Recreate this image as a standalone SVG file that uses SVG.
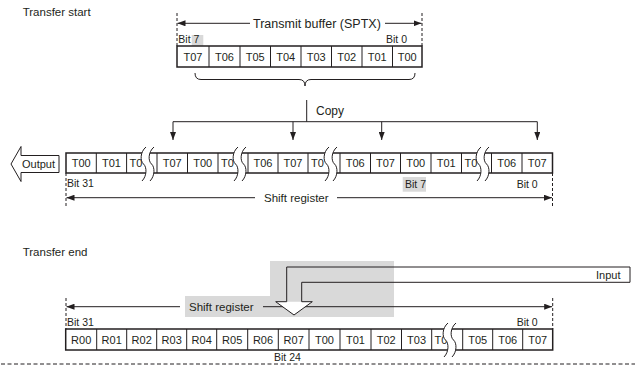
<svg xmlns="http://www.w3.org/2000/svg" width="635" height="366" viewBox="0 0 635 366">
<style>
  text { font-family: "Liberation Sans", Arial, sans-serif; fill: #231f20; }
  .t { font-size: 11px; }
  .c { font-size: 11px; text-anchor: middle; }
  .b { font-size: 10.5px; }
  .h { font-size: 11.5px; }
  .ln { stroke: #231f20; stroke-width: 1; fill: none; }
  .out { stroke: #231f20; stroke-width: 1.5; fill: none; }
  .div { stroke: #231f20; stroke-width: 1; }
  .dash { stroke: #231f20; stroke-width: 1; stroke-dasharray: 3 2; fill: none; }
  .sq { fill: #ffffff; stroke: none; }
  .gray { fill: #d9d9d9; }
</style>
<defs>
  <marker id="ah" markerUnits="userSpaceOnUse" markerWidth="8" markerHeight="6" refX="8" refY="3" orient="auto">
    <path d="M0,0 L8,3 L0,6 Z" fill="#231f20"/>
  </marker>
</defs>

<text class="h" x="22.7" y="16">Transfer start</text>
<text class="h" x="22.7" y="256">Transfer end</text>

<!-- Transmit buffer -->
<g id="transmit-buffer">
  <line class="dash" x1="177" y1="13" x2="177" y2="46"/>
  <line class="dash" x1="422" y1="13" x2="422" y2="46"/>
  <rect class="gray" x="191.7" y="35" width="11.6" height="11"/>
  <text class="b" x="178.3" y="43.3">Bit 7</text>
  <text class="b" x="386" y="43.3">Bit 0</text>
  <rect class="out" x="177" y="46" width="245" height="21"/>
  <g class="div">
    <line x1="209" y1="46" x2="209" y2="67"/>
    <line x1="240" y1="46" x2="240" y2="67"/>
    <line x1="270.5" y1="46" x2="270.5" y2="67"/>
    <line x1="301" y1="46" x2="301" y2="67"/>
    <line x1="331.5" y1="46" x2="331.5" y2="67"/>
    <line x1="362" y1="46" x2="362" y2="67"/>
    <line x1="392.5" y1="46" x2="392.5" y2="67"/>
  </g>
  <text class="c" x="193" y="60.5">T07</text>
  <text class="c" x="224.5" y="60.5">T06</text>
  <text class="c" x="255.2" y="60.5">T05</text>
  <text class="c" x="285.7" y="60.5">T04</text>
  <text class="c" x="316.2" y="60.5">T03</text>
  <text class="c" x="346.7" y="60.5">T02</text>
  <text class="c" x="377.2" y="60.5">T01</text>
  <text class="c" x="407.2" y="60.5">T00</text>
  <text style="font-size:12.5px" x="253" y="27.5">Transmit buffer (SPTX)</text>
</g>

<!-- Output arrow -->
<g id="output">
  <polygon class="ln" points="11,164 21,146.5 21,155.5 59,155.5 59,172.5 21,172.5 21,181.5"/>
  <text class="t" x="22" y="167.5">Output</text>
</g>

<!-- Top shift register -->
<g id="shift-register-start">
  <line class="dash" x1="66" y1="173" x2="66" y2="206"/>
  <line class="dash" x1="552.5" y1="173" x2="552.5" y2="206"/>
  <text class="b" x="67" y="186.5">Bit 31</text>
  <rect class="gray" x="402.7" y="177" width="23.3" height="14.7"/>
  <text class="b" x="405" y="187.5">Bit 7</text>
  <text class="b" x="516.7" y="187.5">Bit 0</text>
  <rect class="out" x="66" y="153" width="486.5" height="20"/>
  <g class="div">
    <line x1="96.3" y1="153" x2="96.3" y2="173"/>
    <line x1="126.6" y1="153" x2="126.6" y2="173"/>
    <line x1="157" y1="153" x2="157" y2="173"/>
    <line x1="187.5" y1="153" x2="187.5" y2="173"/>
    <line x1="218" y1="153" x2="218" y2="173"/>
    <line x1="248" y1="153" x2="248" y2="173"/>
    <line x1="278" y1="153" x2="278" y2="173"/>
    <line x1="308" y1="153" x2="308" y2="173"/>
    <line x1="340" y1="153" x2="340" y2="173"/>
    <line x1="370.5" y1="153" x2="370.5" y2="173"/>
    <line x1="400.5" y1="153" x2="400.5" y2="173"/>
    <line x1="431" y1="153" x2="431" y2="173"/>
    <line x1="461.5" y1="153" x2="461.5" y2="173"/>
    <line x1="491.5" y1="153" x2="491.5" y2="173"/>
    <line x1="522" y1="153" x2="522" y2="173"/>
  </g>
  <text class="c" x="81.2" y="167">T00</text>
  <text class="c" x="111.5" y="167">T01</text>
  <text class="t" x="129.5" y="167">T0</text>
  <text class="c" x="172.2" y="167">T07</text>
  <text class="c" x="202.7" y="167">T00</text>
  <text class="t" x="221" y="167">T0</text>
  <text class="c" x="263" y="167">T06</text>
  <text class="c" x="293" y="167">T07</text>
  <text class="t" x="311" y="167">T0</text>
  <text class="c" x="355.2" y="167">T06</text>
  <text class="c" x="385.5" y="167">T07</text>
  <text class="c" x="415.7" y="167">T00</text>
  <text class="c" x="446.2" y="167">T01</text>
  <text class="t" x="464.5" y="167">T0</text>
  <text class="c" x="506.7" y="167">T06</text>
  <text class="c" x="537.2" y="167">T07</text>
  <!-- breaks -->
  <path class="sq" d="M146,147 C140,152 140,161 143.5,164 C147,167 147,176 142,181 L150,181 C155,176 155,167 151.5,164 C148,161 148,152 154,147 Z"/>
  <path class="ln" d="M146,147 C140,152 140,161 143.5,164 C147,167 147,176 142,181 M154,147 C148,152 148,161 151.5,164 C155,167 155,176 150,181"/>
  <path class="sq" d="M238,147 C232,152 232,161 235.5,164 C239,167 239,176 234,181 L242,181 C247,176 247,167 243.5,164 C240,161 240,152 246,147 Z"/>
  <path class="ln" d="M238,147 C232,152 232,161 235.5,164 C239,167 239,176 234,181 M246,147 C240,152 240,161 243.5,164 C247,167 247,176 242,181"/>
  <path class="sq" d="M329,147 C323,152 323,161 326.5,164 C330,167 330,176 325,181 L333,181 C338,176 338,167 334.5,164 C331,161 331,152 337,147 Z"/>
  <path class="ln" d="M329,147 C323,152 323,161 326.5,164 C330,167 330,176 325,181 M337,147 C331,152 331,161 334.5,164 C338,167 338,176 333,181"/>
  <path class="sq" d="M481,147 C475,152 475,161 478.5,164 C482,167 482,176 477,181 L485,181 C490,176 490,167 486.5,164 C483,161 483,152 489,147 Z"/>
  <path class="ln" d="M481,147 C475,152 475,161 478.5,164 C482,167 482,176 477,181 M489,147 C483,152 483,161 486.5,164 C490,167 490,176 485,181"/>
  <text class="h" x="264" y="201.5">Shift register</text>
</g>

<!-- Bottom: gray area -->
<path class="gray" d="M185,296 H270 V261 H394 V317 H185 Z"/>

<!-- Bottom shift register -->
<g id="shift-register-end">
  <line class="dash" x1="66" y1="298" x2="66" y2="329"/>
  <line class="dash" x1="552.7" y1="298" x2="552.7" y2="329"/>
  <text class="b" x="67" y="325.5">Bit 31</text>
  <text class="b" x="516.7" y="325.5">Bit 0</text>
  <text class="b" x="274" y="360.5">Bit 24</text>
  <rect class="out" x="65.7" y="329" width="487" height="21"/>
  <g class="div">
    <line x1="96.7" y1="329" x2="96.7" y2="350"/>
    <line x1="126.7" y1="329" x2="126.7" y2="350"/>
    <line x1="156.7" y1="329" x2="156.7" y2="350"/>
    <line x1="186.7" y1="329" x2="186.7" y2="350"/>
    <line x1="216.7" y1="329" x2="216.7" y2="350"/>
    <line x1="247.7" y1="329" x2="247.7" y2="350"/>
    <line x1="278.3" y1="329" x2="278.3" y2="350"/>
    <line x1="309" y1="329" x2="309" y2="350"/>
    <line x1="340" y1="329" x2="340" y2="350"/>
    <line x1="371" y1="329" x2="371" y2="350"/>
    <line x1="401.5" y1="329" x2="401.5" y2="350"/>
    <line x1="431.7" y1="329" x2="431.7" y2="350"/>
    <line x1="462.7" y1="329" x2="462.7" y2="350"/>
    <line x1="492.7" y1="329" x2="492.7" y2="350"/>
    <line x1="522.7" y1="329" x2="522.7" y2="350"/>
  </g>
  <text class="c" x="81.2" y="343.5">R00</text>
  <text class="c" x="111.7" y="343.5">R01</text>
  <text class="c" x="141.7" y="343.5">R02</text>
  <text class="c" x="171.7" y="343.5">R03</text>
  <text class="c" x="201.7" y="343.5">R04</text>
  <text class="c" x="232.2" y="343.5">R05</text>
  <text class="c" x="263" y="343.5">R06</text>
  <text class="c" x="293.7" y="343.5">R07</text>
  <text class="c" x="324.5" y="343.5">T00</text>
  <text class="c" x="355.5" y="343.5">T01</text>
  <text class="c" x="386.2" y="343.5">T02</text>
  <text class="c" x="416.6" y="343.5">T03</text>
  <text class="t" x="434.5" y="343.5">T0</text>
  <text class="c" x="477.7" y="343.5">T05</text>
  <text class="c" x="507.7" y="343.5">T06</text>
  <text class="c" x="537.7" y="343.5">T07</text>
  <path class="sq" d="M448,323 C442,328 442,337 445.5,340 C449,343 449,352 444,357 L452,357 C457,352 457,343 453.5,340 C450,337 450,328 456,323 Z"/>
  <path class="ln" d="M448,323 C442,328 442,337 445.5,340 C449,343 449,352 444,357 M456,323 C450,328 450,337 453.5,340 C457,343 457,352 452,357"/>
  <text class="h" x="189" y="311">Shift register</text>
</g>

<!-- Connectors -->
<g id="connectors">
  <line class="ln" x1="250" y1="23.3" x2="177.5" y2="23.3" marker-end="url(#ah)"/>
  <line class="ln" x1="385" y1="23.3" x2="421.5" y2="23.3" marker-end="url(#ah)"/>
  <path class="ln" d="M195,73 Q195,79.5 201,79.5 H299 Q305,79.5 305,86 Q305,79.5 311,79.5 H409 Q415,79.5 415,73"/>
  <line class="ln" x1="306.7" y1="100" x2="306.7" y2="121.7"/>
  <line class="ln" x1="173" y1="121.7" x2="537.3" y2="121.7"/>
  <line class="ln" x1="173" y1="121.7" x2="173" y2="140" marker-end="url(#ah)"/>
  <line class="ln" x1="293" y1="121.7" x2="293" y2="140" marker-end="url(#ah)"/>
  <line class="ln" x1="381.7" y1="121.7" x2="381.7" y2="140" marker-end="url(#ah)"/>
  <line class="ln" x1="537.3" y1="121.7" x2="537.3" y2="140" marker-end="url(#ah)"/>
  <line class="ln" x1="255" y1="197.7" x2="66.5" y2="197.7" marker-end="url(#ah)"/>
  <line class="ln" x1="337" y1="197.7" x2="552" y2="197.7" marker-end="url(#ah)"/>
  <line class="ln" x1="180" y1="306.7" x2="66.5" y2="306.7" marker-end="url(#ah)"/>
  <line class="ln" x1="263" y1="306.7" x2="552.2" y2="306.7" marker-end="url(#ah)"/>
  <line x1="1" y1="364" x2="635" y2="364" stroke="#231f20" stroke-width="1" stroke-dasharray="4 2.5"/>
</g>
<text style="font-size:12px" x="316" y="115">Copy</text>

<!-- Input arrow -->
<g id="input">
  <polygon points="275.7,301.7 294,315 312.3,301.7" fill="#ffffff"/>
  <path class="ln" d="M275.7,301.7 L294,315 L312.3,301.7 H301.7 V282.3 H630 V267 H286.7 V301.7 Z"/>
  <text class="t" x="596" y="278.5">Input</text>
</g>
</svg>
